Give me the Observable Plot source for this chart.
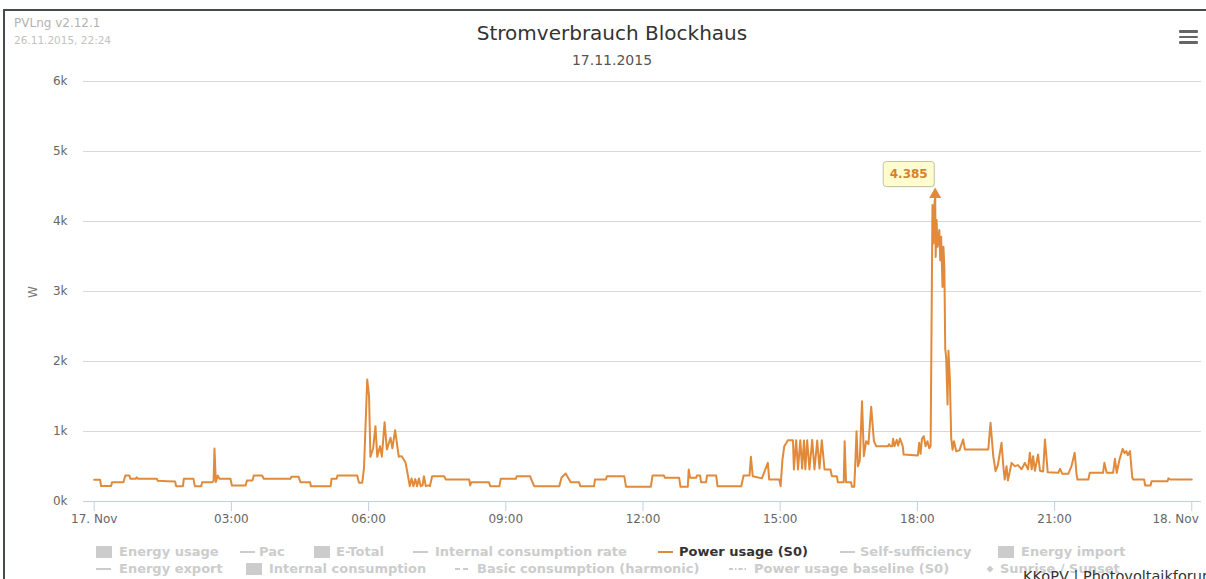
<!DOCTYPE html>
<html><head><meta charset="utf-8">
<script src="https://cdn.jsdelivr.net/npm/d3@7"></script>
<script src="https://cdn.jsdelivr.net/npm/@observablehq/plot@0.6"></script>
<style>
html,body{margin:0;padding:0;background:#fff;overflow:hidden;}
#root{position:relative;width:1206px;height:579px;overflow:hidden;font-family:"DejaVu Sans",Verdana,sans-serif;background:#fff;}
#frame{position:absolute;left:3px;top:9px;width:1300px;height:700px;border:2px solid #46494d;box-sizing:border-box;}
.abs{position:absolute;white-space:nowrap;}
.leg{position:absolute;white-space:nowrap;font-weight:bold;font-size:13px;line-height:14px;}
.bar{position:absolute;left:1179px;width:19px;height:2.7px;background:#666;border-radius:1px;}
</style></head>
<body><div id="root"><div id="frame"></div></div>
<script>
// ---- data ----
const hours = [
0.00,0.13,0.15,0.37,0.39,0.64,0.68,0.77,0.79,0.91,0.93,0.96,1.37,1.39,1.60,1.77,1.79,1.94,1.96,2.17,
2.20,2.34,2.36,2.58,2.61,2.63,2.66,2.70,2.74,2.98,3.01,3.31,3.34,3.46,3.49,3.67,3.71,4.29,4.31,4.47,
4.51,4.72,4.74,5.17,5.19,5.30,5.32,5.75,5.79,5.86,5.90,5.97,6.01,6.04,6.10,6.15,6.19,6.25,6.29,6.35,
6.40,6.48,6.52,6.58,6.66,6.72,6.77,6.81,6.86,6.90,6.94,6.98,7.02,7.06,7.10,7.14,7.18,7.21,7.25,7.30,
7.34,7.39,7.65,7.69,8.20,8.22,8.25,8.63,8.66,8.86,8.89,9.22,9.24,9.53,9.62,10.17,10.22,10.31,10.36,10.42,
10.60,10.63,10.93,10.95,11.19,11.21,11.59,11.63,12.17,12.21,12.46,12.48,12.79,12.82,12.98,13.00,13.03,13.16,13.18,13.25,
13.27,13.38,13.40,13.60,13.63,14.15,14.20,14.33,14.36,14.40,14.60,14.73,14.76,14.98,15.01,15.05,15.09,15.17,15.28,15.30,
15.35,15.39,15.44,15.48,15.52,15.55,15.59,15.64,15.70,15.75,15.81,15.86,15.91,15.97,16.10,16.13,16.24,16.26,16.39,16.41,
16.44,16.55,16.57,16.62,16.64,16.67,16.70,16.74,16.79,16.83,16.88,16.93,16.99,17.05,17.10,17.36,17.38,17.41,17.45,17.47,
17.50,17.55,17.58,17.62,17.68,17.70,18.01,18.04,18.07,18.10,18.14,18.18,18.22,18.26,18.29,18.33,18.35,18.37,18.39,18.40,
18.42,18.44,18.48,18.50,18.52,18.55,18.57,18.59,18.61,18.63,18.66,18.68,18.71,18.74,18.77,18.80,18.85,18.92,19.00,19.04,
19.55,19.60,19.66,19.71,19.76,19.84,19.88,19.91,19.95,19.98,20.06,20.13,20.20,20.28,20.35,20.42,20.46,20.50,20.53,20.57,
20.64,20.68,20.75,20.79,20.85,21.08,21.12,21.17,21.30,21.37,21.44,21.48,21.50,21.74,21.77,22.06,22.09,22.14,22.28,22.32,
22.36,22.42,22.49,22.53,22.57,22.60,22.65,22.70,22.72,22.96,22.98,23.10,23.12,23.47,23.49,23.53,24.00
];
const watts = [
310,310,220,220,276,276,371,371,324,324,345,324,324,295,290,285,219,219,324,324,
219,219,276,276,290,757,280,371,324,324,229,229,300,300,371,371,324,324,352,352,
276,276,219,219,324,324,371,371,267,267,481,1743,1505,638,760,1076,638,790,640,1133,
743,910,760,1019,640,648,600,552,371,219,330,219,320,219,330,219,230,362,219,230,
219,362,362,314,314,229,276,276,219,219,324,324,362,362,219,219,343,400,343,276,
276,219,219,314,314,362,362,210,210,371,371,338,338,210,210,457,338,338,371,371,
276,276,371,371,219,219,371,371,638,362,330,552,314,314,219,600,790,876,876,457,
876,457,876,470,870,460,876,457,880,457,870,470,876,457,457,362,362,276,276,862,
276,276,210,210,505,1005,505,581,1433,648,862,820,1352,862,790,790,819,790,790,895,
790,880,800,900,790,671,657,838,681,895,933,790,860,762,790,4237,3686,4214,4385,3494,
4021,3638,3879,3447,3783,3063,3638,3351,2176,2057,1386,2153,1768,906,738,862,719,730,886,743,
743,1124,648,433,520,838,500,314,505,300,552,505,520,460,552,460,695,460,648,440,
671,440,430,886,419,410,467,395,395,505,695,395,314,314,410,410,552,410,410,610,
410,600,752,690,719,660,719,338,314,314,229,229,290,290,330,314,314
];
const tickHours = [0,3,6,9,12,15,18,21,24];
const tickLabels = ["17. Nov","03:00","06:00","09:00","12:00","15:00","18:00","21:00","18. Nov"];
const yTicks = [0,1000,2000,3000,4000,5000,6000];
const yTickLabels = ["0k","1k","2k","3k","4k","5k","6k"];
const yAxisTitle = "W";
const titleText = "Stromverbrauch Blockhaus";
const subtitleText = "17.11.2015";
const versionText = "PVLng v2.12.1";
const stampText = "26.11.2015, 22:24";
const creditText = "KKoPV | Photovoltaikforum";
const legendRow1 = ["Energy usage","Pac","E-Total","Internal consumption rate","Power usage (S0)","Self-sufficiency","Energy import"];
const legendRow1Kinds = ["square","line","square","line","line","line","square"];
const legendRow2 = ["Energy export","Internal consumption","Basic consumption (harmonic)","Power usage baseline (S0)","Sunrise / Sunset"];
const legendRow2Kinds = ["line","square","dash","dashdot","diamond"];
const activeSeries = "Power usage (S0)";

// ---- drawing ----
const orange = "#e08a3a";
const root = document.getElementById("root");
const data = hours.map((h, i) => ({h, w: watts[i]}));
const peak = data[d3.maxIndex(watts)];
const deFmt = d3.formatLocale({decimal: ",", thousands: ".", grouping: [3], currency: ["", " €"]}).format(",");

const chart = Plot.plot({
  width: 1206, height: 530,
  marginTop: 81, marginBottom: 29, marginLeft: 83, marginRight: 5,
  style: {fontFamily: "'DejaVu Sans', Verdana, sans-serif", fontSize: "12px", color: "#666", background: "transparent", overflow: "visible"},
  x: {domain: [-0.234, 24.213]},
  y: {domain: [0, 6000]},
  marks: [
    Plot.gridY({ticks: yTicks.slice(1), stroke: "#d8d8d8", strokeOpacity: 1}),
    Plot.ruleY([0], {stroke: "#c0d0e0"}),
    Plot.axisY({ticks: yTicks, tickFormat: d => yTickLabels[yTicks.indexOf(d)], tickSize: 0, tickPadding: 16, fill: "#666", label: null}),
    Plot.axisX({ticks: tickHours, tickFormat: d => d === 24 ? "" : tickLabels[tickHours.indexOf(d)], tickSize: 10, tickPadding: 3, stroke: "#c0d0e0", fill: "#666", label: null}),
    Plot.text([tickHours.length - 1], {x: i => tickHours[i], y: () => 0, text: i => tickLabels[i], textAnchor: "end", lineAnchor: "top", dx: 7, dy: 13, fill: "#666"}),
    Plot.line(data, {x: "h", y: "w", stroke: orange, strokeWidth: 2, strokeLinejoin: "round"}),
    Plot.dot([peak], {x: "h", y: "w", symbol: "triangle", r: 4.5, fill: orange, stroke: null}),
    (index, scales) => {
      const x = scales.x(peak.h), y = scales.y(peak.w);
      const g = d3.create("svg:g");
      g.append("rect").attr("x", x - 50.5).attr("y", y - 31.5).attr("width", 51).attr("height", 25).attr("rx", 3)
        .attr("fill", "#000").attr("opacity", 0.06);
      g.append("rect").attr("x", x - 51.5).attr("y", y - 32.5).attr("width", 51).attr("height", 25).attr("rx", 3)
        .attr("fill", "#fffdcf").attr("stroke", "#c4c4a4").attr("stroke-width", 1);
      g.append("text").attr("x", x - 26).attr("y", y - 20).attr("dy", "0.36em").attr("text-anchor", "middle")
        .attr("font-weight", "bold").attr("font-size", "12px").attr("fill", "#d4822e").text(deFmt(peak.w));
      return g.node();
    }
  ]
});
chart.style.position = "absolute";
chart.style.left = "0px";
chart.style.top = "0px";
root.appendChild(chart);

function addText(txt, css) {
  const d = document.createElement("div");
  d.className = "abs";
  d.textContent = txt;
  Object.assign(d.style, css);
  root.appendChild(d);
  return d;
}
addText(titleText, {left: "412px", width: "400px", textAlign: "center", top: "21px", fontSize: "20px", lineHeight: "24px", color: "#333"});
addText(subtitleText, {left: "412px", width: "400px", textAlign: "center", top: "52px", fontSize: "14px", lineHeight: "16px", color: "#555"});
addText(versionText, {left: "14px", top: "16px", fontSize: "12px", lineHeight: "14px", color: "#b2b2b2"});
addText(stampText, {left: "14px", top: "34px", fontSize: "10.5px", lineHeight: "12px", color: "#c2c2c2"});
addText(yAxisTitle, {left: "33px", top: "292px", fontSize: "12px", lineHeight: "12px", color: "#777", transform: "translate(-50%,-50%) rotate(-90deg)"});

[30, 35.6, 41.2].forEach(t => { const b = document.createElement("div"); b.className = "bar"; b.style.top = t + "px"; root.appendChild(b); });

function legendItem(name, kind, symX, textX, cy) {
  const active = name === activeSeries;
  const col = active ? orange : "#cccccc";
  const svg = d3.select(root).append("svg").style("position", "absolute").style("left", symX + "px")
    .style("top", (cy - 7) + "px").attr("width", 20).attr("height", 14);
  if (kind === "square") svg.append("rect").attr("x", 0).attr("y", 1).attr("width", 16).attr("height", 12).attr("fill", col);
  else if (kind === "line") svg.append("line").attr("x1", 0).attr("x2", 15).attr("y1", 7).attr("y2", 7).attr("stroke", col).attr("stroke-width", 2);
  else if (kind === "dash") svg.append("line").attr("x1", 0).attr("x2", 14).attr("y1", 7).attr("y2", 7).attr("stroke", col).attr("stroke-width", 2).attr("stroke-dasharray", "5,3");
  else if (kind === "dashdot") svg.append("line").attr("x1", 0).attr("x2", 18).attr("y1", 7).attr("y2", 7).attr("stroke", col).attr("stroke-width", 2).attr("stroke-dasharray", "4,2,1.5,2");
  else if (kind === "diamond") svg.append("path").attr("d", "M4,3.5L7.5,7L4,10.5L0.5,7Z").attr("fill", col);
  const d = document.createElement("div");
  d.className = "leg";
  d.textContent = name;
  d.style.left = textX + "px";
  d.style.top = (cy - 7.5) + "px";
  d.style.color = active ? "#333" : "#cccccc";
  root.appendChild(d);
}
const row1Sym = [96, 240, 314, 413, 658, 840, 998];
const row1Txt = [119, 259, 336, 435, 679, 860, 1021];
const row2Sym = [96, 246, 455, 729, 986];
const row2Txt = [119, 269, 477, 754, 1000];
legendRow1.forEach((n, i) => legendItem(n, legendRow1Kinds[i], row1Sym[i], row1Txt[i], 552));
legendRow2.forEach((n, i) => legendItem(n, legendRow2Kinds[i], row2Sym[i], row2Txt[i], 569));
addText(creditText, {left: "1023px", top: "568px", fontSize: "14.5px", lineHeight: "17px", color: "#333"});
</script></body></html>
